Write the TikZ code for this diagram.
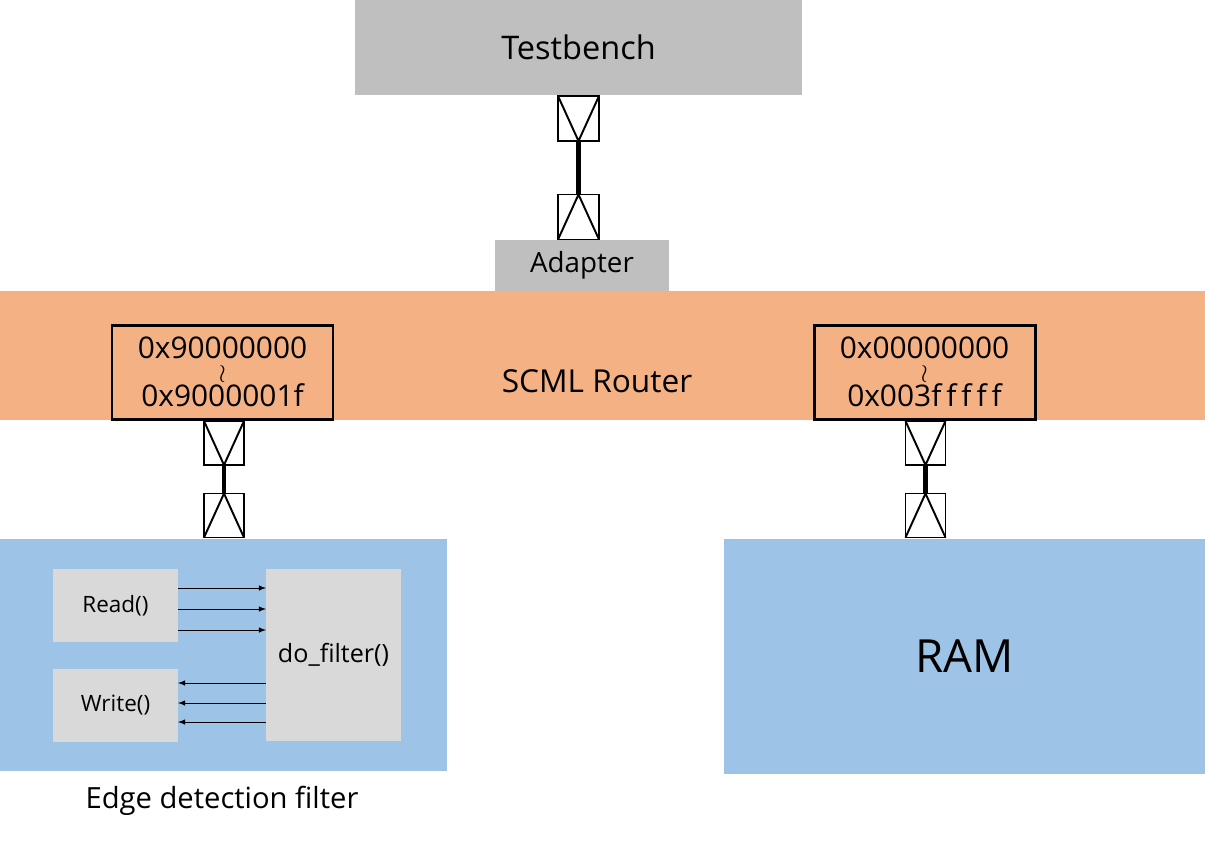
\documentclass[tikz,border=0pt]{standalone}
\usepackage{fontspec}
\setmainfont{Open Sans}
\usepackage{tikz}
\usetikzlibrary{arrows}
\usetikzlibrary{positioning}
\definecolor{tbgray}{HTML}{BFBFBF}
\definecolor{routerorange}{HTML}{F4B183}
\definecolor{modblue}{HTML}{9DC3E6}
\definecolor{fngray}{HTML}{D9D9D9}
\newcommand{\rangemark}{\raisebox{1pt}[9pt][0pt]{\fontsize{14.4}{14.4}\selectfont$\wr$}}
\begin{document}
\begin{tikzpicture}[every node/.style={inner sep=0pt,outer sep=0pt},
  socket/.style={draw,line width=1.1pt,minimum width=0.8cm,minimum height=0.88cm},
  addr/.style={draw,line width=1.7pt,fill=routerorange,minimum width=4.42cm,minimum height=1.88cm,align=center,font=\fontsize{17}{13.5}\selectfont},
  fn/.style={fill=fngray,font=\fontsize{12.8}{14}\selectfont}]
  \useasboundingbox (0,0) rectangle (24.1,-16.82);
  \node (tb) at (11.57,-0.95)[fill=tbgray,minimum width=8.94cm,minimum height=1.9cm,font=\fontsize{18.5}{20}\selectfont]{Testbench};
  \node (adapter) at (11.64,-5.31)[fill=tbgray,minimum width=3.48cm,minimum height=1.02cm,font=\fontsize{15.8}{16}\selectfont]{Adapter};
  \node (router) at (12.05,-7.11)[fill=routerorange,minimum width=24.1cm,minimum height=2.58cm]{};
  \node (routertext) at (11.94,-7.62)[font=\fontsize{18}{20}\selectfont]{SCML Router};
  \node (addr1) at (4.45,-7.44)[addr]{0x90000000\\\rangemark\\0x9000001f};
  \node (addr2) at (18.49,-7.44)[addr]{0x00000000\\\rangemark\\0x003f\,f\,f\,f\,f};
  \node (edge) at (4.47,-13.1)[fill=modblue,minimum width=8.94cm,minimum height=4.64cm]{};
  \node (ram) at (19.29,-13.13)[fill=modblue,minimum width=9.62cm,minimum height=4.7cm,font=\fontsize{26}{28}\selectfont]{RAM};
  \node (read) at (2.31,-12.11)[fn,minimum width=2.5cm,minimum height=1.46cm]{Read()};
  \node (write) at (2.31,-14.11)[fn,minimum width=2.5cm,minimum height=1.46cm]{Write()};
  \node (filter) at (6.67,-13.1)[fn,minimum width=2.7cm,minimum height=3.44cm,font=\fontsize{14.3}{16}\selectfont]{do\_filter()};
  \node (edgetext) at (4.44,-16.02)[font=\fontsize{16.6}{18}\selectfont]{Edge detection filter};
  \node (tbout) at (11.57,-2.37)[socket,minimum width=0.82cm,minimum height=0.9cm]{};
  \node (adin) at (11.57,-4.34)[socket,minimum width=0.82cm,minimum height=0.9cm]{};
  \node (r1out) at (4.48,-8.86)[socket]{};
  \node (edgein) at (4.48,-10.31)[socket]{};
  \node (r2out) at (18.51,-8.86)[socket]{};
  \node (ramin) at (18.51,-10.31)[socket]{};
  \foreach \s in {tbout,r1out,r2out}
    \draw[line width=1.1pt](\s.north west)--(\s.south)--(\s.north east);
  \foreach \s in {adin,edgein,ramin}
    \draw[line width=1.1pt](\s.south west)--(\s.north)--(\s.south east);
  \draw[line width=3pt](tbout)--(adin);
  \draw[line width=2.4pt](r1out)--(edgein);
  \draw[line width=2.4pt](r2out)--(ramin);
  \foreach \y in {-11.76,-12.18,-12.6}
    \draw[-latex,thin](read.east |- 0,\y)--(filter.west |- 0,\y);
  \foreach \y in {-13.66,-14.06,-14.44}
    \draw[-latex,thin](filter.west |- 0,\y)--(write.east |- 0,\y);
\end{tikzpicture}
\end{document}
